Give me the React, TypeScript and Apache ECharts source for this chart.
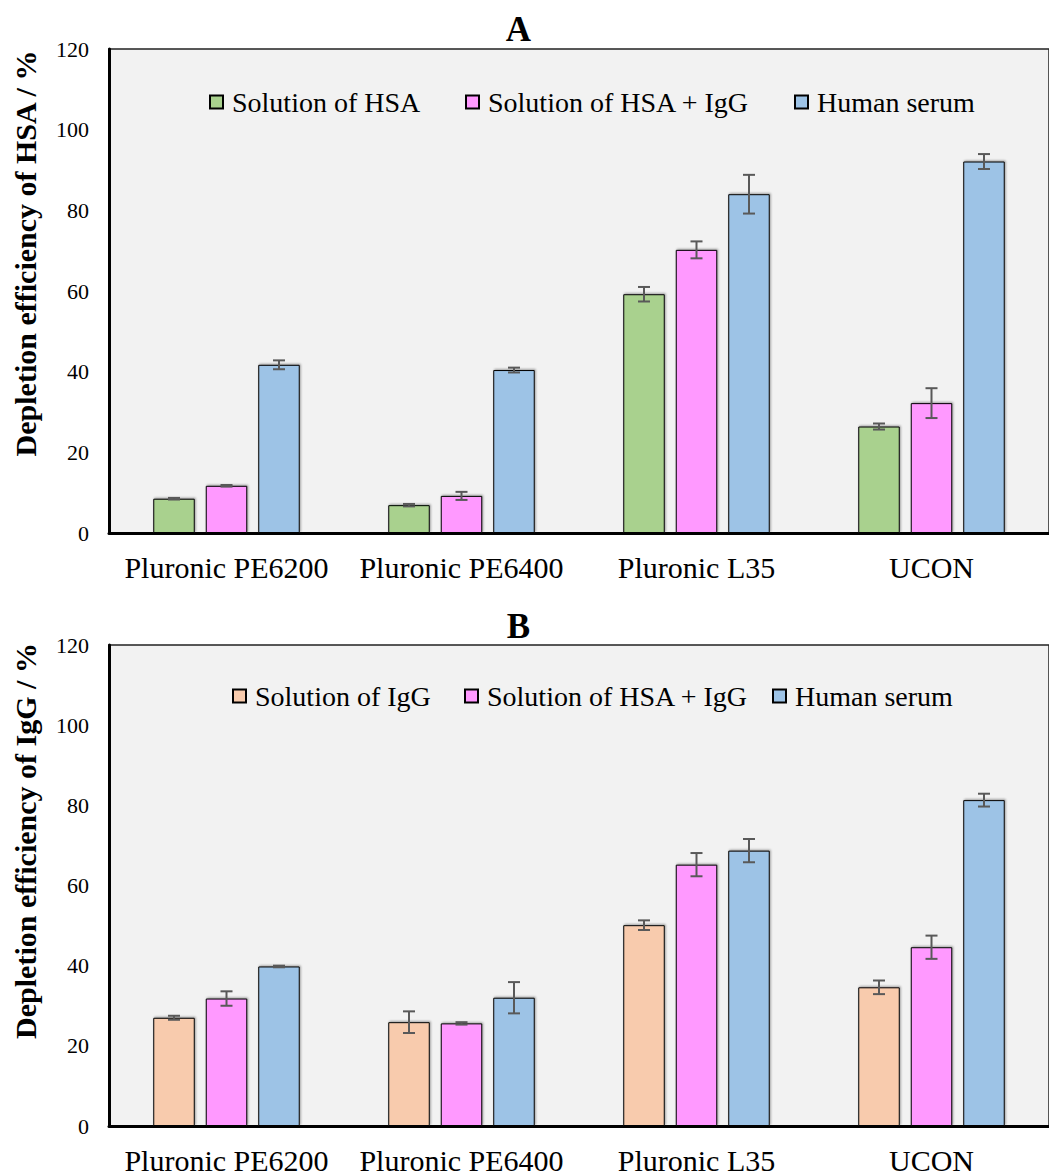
import React, { useEffect, useRef } from "react";
import * as echarts from "echarts";

const categories = ["Pluronic PE6200", "Pluronic PE6400", "Pluronic L35", "UCON"];
const yTicks = [0, 20, 40, 60, 80, 100, 120];

// Panel A — depletion of HSA
const aSolHSA = [8.5, 6.9, 59.2, 26.4];
const aSolHSAErr = [0.2, 0.3, 1.8, 0.75];
const aSolMix = [11.7, 9.2, 70.2, 32.2];
const aSolMixErr = [0.2, 1.0, 2.1, 3.7];
const aSerum = [41.7, 40.4, 84.0, 92.1];
const aSerumErr = [1.1, 0.6, 4.8, 1.85];

// Panel B — depletion of IgG
const bSolIgG = [27.0, 25.9, 50.1, 34.6];
const bSolIgGErr = [0.5, 2.7, 1.2, 1.7];
const bSolMix = [31.8, 25.6, 65.2, 44.6];
const bSolMixErr = [1.8, 0.3, 2.9, 2.9];
const bSerum = [39.8, 32.0, 68.7, 81.3];
const bSerumErr = [0.2, 3.9, 2.9, 1.6];

const FONT = "'Liberation Serif', 'Times New Roman', serif";
const GREEN = "#A9D18E";
const PINK = "#FF99FF";
const BLUE = "#9DC3E6";
const PEACH = "#F8CBAD";
const ERR = "#595959";

const BAR_W = 41.5;
const BAR_GAP = 0.265;
const STRIDE = BAR_W * (1 + BAR_GAP);

function barSeries(name: string, data: number[], color: string, idx: number) {
  return {
    type: "bar",
    name,
    xAxisIndex: idx,
    yAxisIndex: idx,
    data,
    barWidth: BAR_W,
    barGap: BAR_GAP * 100 + "%",
    itemStyle: {
      color,
      borderColor: "#000",
      borderWidth: 1,
      shadowColor: "rgba(0,0,0,0.35)",
      shadowBlur: 2,
      shadowOffsetX: 1,
      shadowOffsetY: -1,
    },
    emphasis: { disabled: true },
  };
}

function errSeries(values: number[], errs: number[], pos: number, idx: number) {
  return {
    type: "custom",
    xAxisIndex: idx,
    yAxisIndex: idx,
    silent: true,
    z: 10,
    data: values.map((v, i) => [i, v, errs[i]]),
    encode: { x: 0, y: 1 },
    renderItem: (params: any, api: any) => {
      const c = api.value(0);
      const v = api.value(1);
      const e = api.value(2);
      const hi = api.coord([c, v + e]);
      const lo = api.coord([c, v - e]);
      const x = hi[0] + (pos - 1) * STRIDE;
      const style = { stroke: ERR, lineWidth: 2 };
      return {
        type: "group",
        children: [
          { type: "line", shape: { x1: x, y1: hi[1], x2: x, y2: lo[1] }, style },
          { type: "line", shape: { x1: x - 6, y1: hi[1], x2: x + 6, y2: hi[1] }, style },
          { type: "line", shape: { x1: x - 6, y1: lo[1], x2: x + 6, y2: lo[1] }, style },
        ],
      };
    },
  };
}

function legendItem(name: string, left: number, top: number) {
  return {
    data: [{ name, icon: "rect" }],
    left,
    top,
    itemWidth: 13,
    itemHeight: 13,
    itemGap: 0,
    padding: 0,
    selectedMode: false,
    textStyle: { fontSize: 28, fontFamily: FONT, color: "#000", padding: [0, 0, 0, 4] },
  };
}

function xAxis(idx: number) {
  return {
    type: "category",
    gridIndex: idx,
    data: categories,
    axisTick: { show: false },
    axisLine: { lineStyle: { color: "#000", width: 3 } },
    axisLabel: { fontSize: 30, fontFamily: FONT, color: "#000", margin: 19, interval: 0 },
  };
}

function yAxis(idx: number) {
  return {
    type: "value",
    gridIndex: idx,
    min: yTicks[0],
    max: yTicks[yTicks.length - 1],
    interval: yTicks[1] - yTicks[0],
    splitLine: { show: false },
    axisTick: { show: false },
    axisLine: { show: true, lineStyle: { color: "#000", width: 3 } },
    axisLabel: { fontSize: 22, fontFamily: FONT, color: "#000", margin: 20 },
  };
}

export default function App() {
  const ref = useRef<HTMLDivElement>(null);
  useEffect(() => {
    document.body.style.margin = "0";
    if (!ref.current) return;
    const chart = echarts.init(ref.current, undefined, { renderer: "svg" });
    chart.setOption({
      animation: false,
      backgroundColor: "#fff",
      grid: [
        { left: 109, top: 49, width: 949, height: 484, show: true, backgroundColor: "#F2F2F2", borderColor: "#222", borderWidth: 1.5 },
        { left: 109, top: 645, width: 949, height: 481.5, show: true, backgroundColor: "#F2F2F2", borderColor: "#222", borderWidth: 1.5 },
      ],
      xAxis: [xAxis(0), xAxis(1)],
      yAxis: [yAxis(0), yAxis(1)],
      legend: [
        legendItem("Solution of HSA", 209, 88),
        legendItem("Solution of HSA + IgG", 465, 88),
        legendItem("Human serum", 794, 88),
        legendItem("Solution of IgG", 232, 682),
        legendItem("Solution of HSA + IgG", 464, 682),
        legendItem("Human serum", 772, 682),
      ],
      graphic: [
        { type: "text", x: 518.5, y: 29.5, style: { text: "A", fontSize: 35, fontWeight: "bold", fontFamily: FONT, fill: "#000", align: "center", verticalAlign: "middle" } },
        { type: "text", x: 518.5, y: 626, style: { text: "B", fontSize: 35, fontWeight: "bold", fontFamily: FONT, fill: "#000", align: "center", verticalAlign: "middle" } },
        { type: "text", x: 25, y: 253.5, rotation: Math.PI / 2, style: { text: "Depletion efficiency of HSA / %", fontSize: 30, fontWeight: "bold", fontFamily: FONT, fill: "#000", align: "center", verticalAlign: "middle" } },
        { type: "text", x: 25, y: 841, rotation: Math.PI / 2, style: { text: "Depletion efficiency of IgG / %", fontSize: 30, fontWeight: "bold", fontFamily: FONT, fill: "#000", align: "center", verticalAlign: "middle" } },
      ],
      series: [
        barSeries("Solution of HSA", aSolHSA, GREEN, 0),
        barSeries("Solution of HSA + IgG", aSolMix, PINK, 0),
        barSeries("Human serum", aSerum, BLUE, 0),
        errSeries(aSolHSA, aSolHSAErr, 0, 0),
        errSeries(aSolMix, aSolMixErr, 1, 0),
        errSeries(aSerum, aSerumErr, 2, 0),
        barSeries("Solution of IgG", bSolIgG, PEACH, 1),
        barSeries("Solution of HSA + IgG", bSolMix, PINK, 1),
        barSeries("Human serum", bSerum, BLUE, 1),
        errSeries(bSolIgG, bSolIgGErr, 0, 1),
        errSeries(bSolMix, bSolMixErr, 1, 1),
        errSeries(bSerum, bSerumErr, 2, 1),
      ],
    });
    return () => chart.dispose();
  }, []);
  return <div ref={ref} style={{ width: 1049, height: 1175, overflow: "hidden" }} />;
}
